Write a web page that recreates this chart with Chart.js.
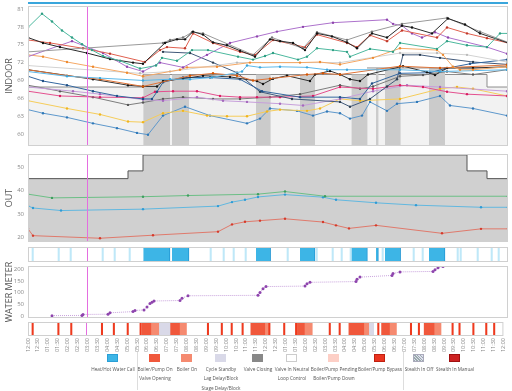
<!DOCTYPE html>
<html>
<head>
<meta charset="utf-8">
<script src="https://cdn.jsdelivr.net/npm/chart.js@4.4.1/dist/chart.umd.min.js"></script>
<style>
  body { margin: 0; width: 512px; height: 391px; background: #fff; position: relative; overflow: hidden; font-family: "Open Sans", sans-serif; }
  .panel { position: absolute; left: 0; width: 512px; }
  .sw { position: absolute; top: 354px; width: 11px; height: 8px; box-sizing: border-box; }
  .lb { position: absolute; font-size: 4.7px; color: #555; white-space: nowrap; transform: translateX(-50%); }
  .sep { position: absolute; top: 352px; width: 1px; height: 38px; background: #ddd; }
</style>
</head>
<body>
<div style="position:absolute;left:28px;top:2px;width:480px;height:2px;background:#3aa6dc"></div>
<div class="panel" style="top:0;height:150px"><canvas id="indoor"></canvas></div>
<div class="panel" style="top:150px;height:96px"><canvas id="out"></canvas></div>
<div class="panel" style="top:246px;height:17px"><canvas id="calls"></canvas></div>
<div class="panel" style="top:262px;height:60px"><canvas id="water"></canvas></div>
<div class="panel" style="top:321px;height:34px"><canvas id="status"></canvas></div>

<div id="legend">
  <div class="sw" style="left:107px;background:#3db5e6;border:1px solid #2a9fd6"></div>
  <div class="lb" style="left:113px;top:366px">Heat/Hot Water Call</div>
  <div class="sep" style="left:137px"></div>
  <div class="sw" style="left:149px;background:#f0583c"></div>
  <div class="lb" style="left:155px;top:366px">Boiler/Pump On</div>
  <div class="lb" style="left:155px;top:375px">Valve Opening</div>
  <div class="sw" style="left:181px;background:#f58a70"></div>
  <div class="lb" style="left:187px;top:366px">Boiler On</div>
  <div class="sw" style="left:215px;background:#d9d9e8"></div>
  <div class="lb" style="left:221px;top:366px">Cycle Standby</div>
  <div class="lb" style="left:221px;top:375px">Lag Delay/Block</div>
  <div class="lb" style="left:221px;top:385px">Stage Delay/Block</div>
  <div class="sw" style="left:252px;background:#888"></div>
  <div class="lb" style="left:258px;top:366px">Valve Closing</div>
  <div class="sw" style="left:286px;background:#fff;border:1px solid #ccc"></div>
  <div class="lb" style="left:292px;top:366px">Valve In Neutral</div>
  <div class="lb" style="left:292px;top:375px">Loop Control</div>
  <div class="sw" style="left:328px;background:#fdcfc6"></div>
  <div class="lb" style="left:334px;top:366px">Boiler/Pump Pending</div>
  <div class="lb" style="left:334px;top:375px">Boiler/Pump Down</div>
  <div class="sw" style="left:374px;background:#ea3420;border:1px solid #c0200f"></div>
  <div class="lb" style="left:380px;top:366px">Boiler/Pump Bypass</div>
  <div class="sep" style="left:403px"></div>
  <div class="sw" style="left:413px;border:1px solid #aab;background:repeating-linear-gradient(45deg,#9aa 0 1px,#dde 1px 2px)"></div>
  <div class="lb" style="left:419px;top:366px">Stealth In Off</div>
  <div class="sw" style="left:449px;background:#cd2121;border:1px solid #a01010"></div>
  <div class="lb" style="left:455px;top:366px">Stealth In Manual</div>
</div>

<script>
// time is in hours since 12:00
const MARKER = 2.95;

const indoorTicks = [60, 63, 66, 69, 72, 75, 78, 81];
const outTicks = [20, 30, 40, 50];
const waterTicks = [0, 50, 100, 150, 200];

// indoor sensors [hour, °F]
const teal = [[0,77.9],[0.7,80.2],[1.2,78.9],[1.7,77.4],[2.2,76.2],[2.7,75.1],[3.2,74.1],[3.75,73.1],[4.6,72.3],[5.6,71.0],[6.4,71.5],[6.7,72.8],[7.45,72.3],[8.2,74.1],[9.0,74.1],[10.5,73.0],[11.25,72.5],[11.85,73.1],[12.25,73.6],[13.5,72.5],[13.95,73.0],[14.45,74.4],[15.25,74.1],[15.95,73.8],[16.1,73.0],[17.1,74.3],[18.25,73.8],[18.6,75.3],[20.45,74.3],[20.95,75.6],[21.95,74.9],[22.95,74.6],[23.6,76.9],[24,76.9]];
const black = [[0,76.2],[0.75,75.3],[1.6,74.6],[2.95,73.6],[4.1,72.6],[5.25,72.0],[5.75,71.8],[6.85,75.3],[7.45,75.9],[7.85,75.9],[8.25,77.2],[8.75,76.7],[9.25,75.4],[9.95,74.9],[10.6,74.0],[11.35,73.0],[12.1,75.9],[12.6,75.6],[13.25,75.3],[13.85,74.1],[14.45,76.9],[15.2,76.4],[15.95,75.4],[16.45,74.4],[17.2,76.9],[17.95,76.2],[18.7,78.2],[19.2,77.9],[20.2,76.9],[21.0,79.4],[21.85,78.4],[22.6,76.9],[24,75.3]];
const gray = [[0,73.8],[6.75,75.3],[7.1,75.8],[7.75,76.2],[8.2,77.1],[8.75,76.9],[11.25,73.3],[12.2,76.2],[13.75,74.4],[14.45,77.1],[15.95,75.8],[17.2,77.2],[18.7,78.5],[20.95,79.5],[22.6,77.2],[24,75.4]];
const red = [[0,75.8],[1.1,75.3],[2.75,74.4],[4.1,73.5],[5.85,72.1],[6.6,74.1],[6.95,74.6],[7.85,74.4],[8.25,76.9],[9.25,75.3],[10.6,73.8],[11.35,73.3],[12.25,75.8],[13.85,74.6],[14.45,76.7],[15.95,75.3],[16.45,74.6],[17.1,76.6],[17.95,75.6],[18.7,77.4],[20.45,76.2],[20.95,77.9],[21.95,76.9],[22.95,76.1],[24,75.3]];
const purple = [[0,73.0],[2.2,75.6],[3.75,73.6],[4.95,71.3],[5.75,70.5],[6.6,72.0],[7.75,71.2],[8.95,73.3],[10.1,75.3],[11.45,76.4],[12.45,77.2],[13.75,78.0],[15.25,78.7],[17.95,79.2],[18.25,78.5],[18.7,78.2],[19.2,76.9],[19.7,76.2],[20.35,77.1],[21.0,76.2],[22.95,74.6],[23.95,73.5]];
const orange = [[0,73.3],[0.75,73.0],[1.95,72.1],[3.25,71.3],[4.95,70.3],[5.75,69.7],[7.6,70.8],[7.95,71.2],[9.45,71.3],[11.1,72.0],[13.6,72.0],[14.6,72.1],[15.6,71.7],[17.25,72.8],[18.6,74.4],[20.45,74.1],[20.75,73.3],[21.25,71.3],[21.6,70.8],[22.25,70.8],[23.95,71.3]];
const silver = [[0,71.5],[5.6,70.2],[7.1,70.5],[10.45,72.0],[15.6,72.0],[18.6,73.6],[20.45,73.6],[21.95,73.3],[23.95,72.1]];
const sky = [[0,70.5],[1.95,69.7],[3.6,69.4],[5.75,69.0],[7.1,69.2],[8.1,69.2],[9.2,69.5],[10.7,70.5],[10.95,71.5],[11.6,71.2],[12.6,71.3],[13.95,71.2],[14.95,70.8],[15.95,70.8],[18.6,70.8],[20.6,70.5],[23.95,70.8]];
const rust = [[0,70.8],[1.95,69.8],[3.6,69.2],[5.75,68.0],[8.1,69.8],[9.25,70.2],[10.45,69.8],[11.25,69.0],[12.1,69.3],[13.95,70.0],[14.75,70.2],[15.6,70.0],[18.6,71.4],[20.6,71.1],[23.95,71.6]];
const ink = [[0,70.8],[3.25,69.2],[5.0,68.2],[5.75,68.0],[6.45,68.0],[6.75,68.9],[7.75,69.3],[8.75,69.8],[10.1,69.6],[11.45,68.9],[11.75,68.4],[12.25,69.3],[12.95,69.8],[14.1,68.9],[14.35,70.0],[15.1,70.6],[15.6,70.0],[16.1,69.2],[16.6,68.9],[17.0,70.0],[18.75,71.4],[19.95,70.4],[20.35,69.9],[20.95,71.1],[22.25,71.1],[23.95,71.3]];
const navy = [[0,69.7],[0.75,68.9],[1.95,68.2],[3.25,67.2],[4.45,66.4],[5.75,65.9],[6.2,65.9],[6.45,67.1],[6.75,68.7],[7.75,69.5],[9.1,69.5],[10.6,69.2],[11.7,67.2],[13.6,66.2],[15.6,66.2],[16.6,65.9],[17.2,68.5],[18.6,70.2],[20.1,70.3],[20.85,71.0],[22.1,71.8],[23.95,72.5]];
const slate = [[6.75,73.8],[8.1,73.6],[9.25,72.0],[10.45,70.3],[11.6,67.1],[13.2,65.9],[15.6,65.4],[16.1,64.6],[17.1,65.9],[17.95,68.0],[18.45,69.2],[18.75,73.3],[19.6,73.3],[20.6,72.8],[22.25,72.1],[23.95,71.7]];
const pink = [[0,67.2],[1.6,66.4],[3.6,66.2],[5.75,66.1],[6.35,67.1],[7.25,67.2],[8.45,67.2],[9.6,66.4],[10.6,66.2],[11.45,66.2],[12.6,66.2],[14.25,66.4],[15.6,67.9],[17.25,67.6],[18.6,68.2],[19.75,67.9],[20.95,67.1],[21.95,66.7],[23.95,66.4]];
const lilac = [[0,67.9],[2.25,67.2],[3.6,66.7],[5.75,65.8],[6.75,65.6],[8.45,66.2],[9.75,65.6],[10.95,65.4],[12.6,65.1],[13.75,64.8],[15.6,65.9],[17.25,67.2],[18.95,68.2],[20.6,67.9],[23.95,67.2]];
const ash = [[0,68.2],[1.6,67.2],[3.25,66.2],[5.0,64.9],[5.75,65.3],[6.75,65.9],[7.75,66.2],[9.25,65.9],[10.6,65.9],[12.1,66.2],[13.6,66.7],[15.6,68.2],[16.6,67.6],[17.25,68.0],[18.6,69.7],[19.75,69.9],[20.95,70.5],[22.25,70.0],[23.95,70.8]];
const yellow = [[0,65.6],[1.95,64.3],[3.6,63.3],[5.0,62.1],[5.75,62.0],[6.75,63.5],[7.75,63.9],[8.95,63.1],[9.95,63.0],[10.95,63.0],[11.95,63.8],[12.6,64.1],[13.95,63.9],[14.6,64.3],[15.6,65.9],[16.6,65.6],[18.6,65.9],[20.6,67.6],[21.45,67.9],[22.25,67.6],[23.95,66.4]];
const steel = [[0,64.1],[0.75,63.5],[1.95,62.8],[3.25,61.8],[4.45,61.0],[5.45,60.2],[6.0,59.9],[6.75,63.1],[7.85,64.6],[9.1,63.1],[10.95,61.8],[11.6,62.6],[12.1,64.3],[13.45,63.9],[14.25,63.1],[14.95,63.8],[15.6,63.5],[16.1,62.6],[16.7,63.1],[17.1,65.4],[17.95,63.9],[18.45,65.1],[19.45,65.4],[20.6,66.4],[21.1,64.8],[22.25,64.3],[23.95,63.1]];

// setpoints and heat calls
const setLow = [[0,67.9],[5.75,70.0],[22.95,67.9],[24,67.9]];
const setHigh = [[16.95,71.1],[22.95,71.1]];
const heatCalls = [[5.77,7.1],[7.2,8.05],[11.4,12.13],[13.6,14.35],[16.18,16.97],[17.4,17.52],[17.85,18.63],[20.05,20.85]];
const bandTop = [70.0, 70.0, 70.0, 70.0, 70.0, 71.1, 71.1, 71.1];
const shortCalls = [0.2,1.5,2.1,3.7,4.3,5.05,9.1,9.75,10.25,10.85,12.95,14.4,15.2,15.65,16.1,17.7,19.25,19.7,21.45,21.6,22.45,23.15,23.5];

// outdoor
const outStep = [[0,45],[5,48.3],[5.75,55.1],[21.95,48.3],[22.95,45],[24,45]];
const outGreen = [[0,38.4],[1.2,36.8],[5.75,37.3],[8.0,37.8],[11.5,38.4],[12.85,39.5],[14.85,37.5],[24,37.5]];
const outBlue = [[0,33.4],[0.25,32.5],[1.65,31.4],[5.75,32.0],[9.5,33.3],[10.2,35.0],[10.85,36.0],[11.5,37.2],[12.85,38.2],[14.75,37.1],[15.4,36.0],[17.4,34.7],[19.4,33.7],[22.65,32.8],[24,32.8]];
const outRed = [[0,23.6],[0.25,20.7],[3.6,19.6],[6.25,20.9],[9.5,22.4],[10.2,25.5],[10.85,26.6],[11.6,27.1],[12.85,27.9],[14.75,26.5],[15.4,25.1],[16.05,23.8],[17.4,25.1],[20.7,21.7],[22.65,23.6],[24,23.6]];

// water meter
const waterHours = [1.2,2.7,2.75,4.0,4.1,5.25,5.35,5.8,5.95,6.1,6.2,6.3,7.6,7.7,8.0,11.5,11.6,11.75,11.9,13.85,13.95,14.1,16.4,16.45,16.6,18.2,18.25,18.6,20.25,20.35,20.5,20.75];
const waterValues = [3,4,8,9,15,20,25,27,40,54,60,65,67,77,87,89,101,117,126,128,138,144,147,157,166,173,181,188,190,197,206,211];

// equipment status
const pumpOn = [[5.75,6.2],[7.2,7.65],[11.25,11.95],[13.6,13.95],[16.2,16.95],[17.85,18.25],[20.0,20.5]];
const boilerOn = [[6.2,6.6],[7.65,8.0],[11.95,12.15],[13.95,14.35],[16.95,17.2],[18.25,18.6],[20.5,20.85]];
const standby = [[6.6,7.2],[17.2,17.45]];
const bypass = [0.2,1.5,2.15,3.7,4.3,5.0,5.65,9.05,9.75,10.25,10.8,12.15,12.9,13.5,15.2,15.7,17.65,19.3,19.7,21.4,21.75,22.45,23.1,23.5];

const FONT = '"Open Sans", sans-serif';
const THIN = 0.07;

const frame = {
  id: 'frame',
  afterDatasetsDraw(chart) {
    const a = chart.chartArea, ctx = chart.ctx;
    ctx.save();
    ctx.strokeStyle = '#d0d0d0';
    ctx.lineWidth = 1;
    ctx.strokeRect(a.left + 0.5, a.top + 0.5, a.width - 1, a.height - 1);
    ctx.restore();
  }
};
const marker = {
  id: 'marker',
  afterDatasetsDraw(chart) {
    const a = chart.chartArea, ctx = chart.ctx;
    const px = Math.round(chart.scales.x.getPixelForValue(MARKER)) + 0.5;
    ctx.save();
    ctx.strokeStyle = '#e46ee0';
    ctx.lineWidth = 1;
    ctx.beginPath();
    ctx.moveTo(px, a.top);
    ctx.lineTo(px, a.bottom);
    ctx.stroke();
    ctx.restore();
  }
};

const pts = arr => arr.map(([x, y]) => ({ x, y }));

function line(arr, color, dot) {
  return {
    data: pts(arr), borderColor: color, borderWidth: 1, tension: 0, fill: false,
    pointRadius: 1.2, pointBorderWidth: 0, pointBackgroundColor: dot || color
  };
}

function stepFill(arr, lineColor, fillColor, order) {
  return {
    data: pts(arr), stepped: true, fill: 'start', backgroundColor: fillColor,
    borderColor: lineColor, borderWidth: 1, pointRadius: 0, order: order
  };
}

function yAxis(min, max, ticks, title) {
  return {
    min: min, max: max,
    afterBuildTicks: s => { s.ticks = ticks.map(v => ({ value: v })); },
    afterFit: s => { s.width = 28; s.paddingTop = 0; s.paddingBottom = 0; },
    grid: { display: false, drawTicks: false },
    border: { display: false },
    ticks: { font: { size: 6, family: FONT }, color: '#888', padding: 4 },
    title: { display: true, text: title, font: { size: 9, family: FONT }, color: '#555', padding: { top: 4, bottom: 0 } }
  };
}

const hidden = { type: 'linear', min: 0, max: 24, display: false };
const base = {
  animation: false, responsive: true, maintainAspectRatio: false, events: [],
  plugins: { legend: { display: false }, tooltip: { enabled: false } }
};

// dark bands during heat calls
const band = [[0, 58]];
heatCalls.forEach(([s, e], i) => { band.push([s, bandTop[i]], [e, 58]); });
band.push([24, 58]);

new Chart(document.getElementById('indoor'), {
  type: 'line',
  data: {
    datasets: [
      line(teal, '#4cb89e', '#2f9e84'),
      line(black, '#2b2b2b', '#111'),
      line(gray, '#9a9a9a', '#777'),
      line(red, '#e0604f', '#c0392b'),
      line(purple, '#ad72cc', '#8e44ad'),
      line(orange, '#f5a865', '#ee8a2e'),
      line(silver, '#d2d2d2', '#bbb'),
      line(sky, '#5db9ea', '#3aa6dc'),
      line(rust, '#e07438', '#d35400'),
      line(ink, '#333', '#111'),
      line(navy, '#3467a0', '#1f4f85'),
      line(slate, '#41597a', '#2c3e50'),
      line(pink, '#e4508f', '#d81b60'),
      line(lilac, '#c79fdb', '#a569bd'),
      line(ash, '#7d7d7d', '#555'),
      line(yellow, '#f6cd5a', '#f1b51c'),
      line(steel, '#5e98cc', '#2e78b8'),
      { data: pts(setHigh), borderColor: '#8d8d8d', borderWidth: 1, pointRadius: 0, stepped: true, order: 1 },
      { data: pts(band), stepped: true, fill: 'start', backgroundColor: '#cbcbcb', borderColor: 'rgba(0,0,0,0)', borderWidth: 1, pointRadius: 0, order: 2 },
      stepFill(setLow, '#8d8d8d', '#f2f2f2', 3)
    ]
  },
  options: {
    ...base,
    layout: { padding: { top: 6, right: 4, bottom: 2, left: 0 } },
    scales: { x: hidden, y: yAxis(58, 81.5, indoorTicks, 'INDOOR') }
  },
  plugins: [marker, frame]
});

new Chart(document.getElementById('out'), {
  type: 'line',
  data: {
    datasets: [
      line(outGreen, '#6cbf86', '#3e9e5e'),
      line(outBlue, '#62b8e0', '#2e9bd6'),
      line(outRed, '#e07a6c', '#d63a2a'),
      stepFill(outStep, '#555', '#d0d0d0', 3)
    ]
  },
  options: {
    ...base,
    layout: { padding: { top: 2, right: 4, bottom: 1, left: 0 } },
    scales: { x: hidden, y: yAxis(18, 55.5, outTicks, 'OUT') }
  },
  plugins: [marker, frame]
});

function seg(arr, color, border) {
  return {
    data: arr.map(([s, e]) => ({ x: [s, e], y: 's' })),
    backgroundColor: color, borderColor: border || color, borderWidth: border ? 1 : 0,
    grouped: false, barPercentage: 1, categoryPercentage: 1
  };
}

function stripOptions(extraX, bottom) {
  return {
    ...base,
    indexAxis: 'y',
    layout: { padding: { top: 1, right: 4, bottom: bottom, left: 28 } },
    scales: { x: Object.assign({ type: 'linear', min: 0, max: 24 }, extraX), y: { display: false } }
  };
}

new Chart(document.getElementById('calls'), {
  type: 'bar',
  data: {
    labels: ['s'],
    datasets: [
      seg(heatCalls, '#3db5e6', '#2196d3'),
      seg(shortCalls.map(h => [h, h + THIN]), '#bfe8f8')
    ]
  },
  options: stripOptions({ display: false }, 1),
  plugins: [marker, frame]
});

new Chart(document.getElementById('water'), {
  type: 'line',
  data: {
    datasets: [{
      data: waterHours.map((h, i) => ({ x: h, y: waterValues[i] })),
      borderColor: '#c8a2dc', borderWidth: 1, borderDash: [1, 1], tension: 0,
      pointRadius: 1.5, pointBorderWidth: 0, pointBackgroundColor: '#8e44ad'
    }]
  },
  options: {
    ...base,
    layout: { padding: { top: 1, right: 4, bottom: 1, left: 0 } },
    scales: { x: hidden, y: yAxis(-7, 213, waterTicks, 'WATER METER') }
  },
  plugins: [marker, frame]
});

const fmt = v => {
  const h = Math.floor(v);
  return String((h % 12) || 12).padStart(2, '0') + ':' + (v % 1 ? '30' : '00');
};

new Chart(document.getElementById('status'), {
  type: 'bar',
  data: {
    labels: ['s'],
    datasets: [
      seg(bypass.map(h => [h, h + THIN]), '#ee3a1e'),
      seg(pumpOn, '#f0583c'),
      seg(boilerOn, '#f58a70'),
      seg(standby, '#d9d9e8')
    ]
  },
  options: stripOptions({
    display: true,
    afterFit: s => { s.height = 19; },
    grid: { display: false, drawTicks: false },
    border: { display: false },
    ticks: {
      stepSize: 0.5, autoSkip: false, minRotation: 90, maxRotation: 90, padding: 2,
      font: { size: 5.5, family: FONT }, color: '#888', callback: fmt
    }
  }, 0),
  plugins: [marker, frame]
});
</script>
</body>
</html>
